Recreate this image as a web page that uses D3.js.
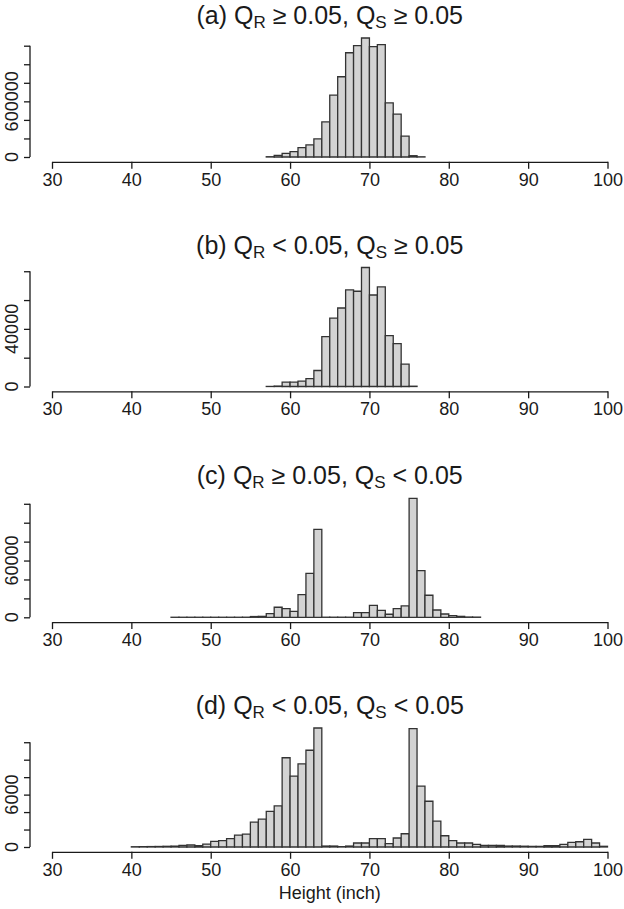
<!DOCTYPE html>
<html>
<head>
<meta charset="utf-8">
<script src="https://cdn.jsdelivr.net/npm/d3@7"></script>
<style>
  html, body { margin: 0; padding: 0; background: #fff; }
  svg { display: block; }
  text { font-family: "Liberation Sans", Arial, Helvetica, sans-serif; fill: #1a1a1a; }
</style>
</head>
<body>
<svg id="chart" width="624" height="909"></svg>
<script>
// ---------- data ----------
const xTicks = [30, 40, 50, 60, 70, 80, 90, 100];

const titlesMain = [["(a) Q", "R", " \u2265 0.05, Q", "S", " \u2265 0.05"],
                    ["(b) Q", "R", " < 0.05, Q", "S", " \u2265 0.05"],
                    ["(c) Q", "R", " \u2265 0.05, Q", "S", " < 0.05"],
                    ["(d) Q", "R", " < 0.05, Q", "S", " < 0.05"]];

// first break of each histogram (bins are 1 inch wide)
const startA = 57;
const countsA = [3000, 18000, 40000, 57000, 100000, 130000, 195000, 378000, 667000, 865000,
                 1124000, 1200000, 1283000, 1189000, 1211000, 584000, 462000, 224000, 14000, 2000];
const yTicksA = [0, 200000, 400000, 600000, 800000, 1000000, 1200000];
const yLabelsA = ["0", "", "", "600000", "", "", ""];

const startB = 57;
const countsB = [50, 300, 3000, 3000, 3700, 5400, 11100, 34600, 47500, 54500,
                 67000, 66100, 82600, 63500, 69100, 35300, 29700, 15500, 200];
const yTicksB = [0, 20000, 40000, 60000, 80000];
const yLabelsB = ["0", "", "40000", "", ""];

const startC = 45;
const countsC = [50, 50, 50, 50, 50, 50, 50, 50, 50, 100,
                 800, 1000, 3900, 10600, 9200, 6300, 24000, 46500, 93000,
                 100, 100, 100, 100,
                 5000, 5000, 12700, 7400, 3200, 9200, 12000, 125800, 49400, 23300, 7700, 3500, 1800, 1000, 300, 200];
const yTicksC = [0, 20000, 40000, 60000, 80000, 100000, 120000];
const yLabelsC = ["0", "", "", "60000", "", "", ""];

const startD = 40;
const countsD = [30, 40, 50, 60, 80, 100, 190, 230, 150, 340,
                 650, 720, 950, 1370, 1480, 2850, 3190, 4070, 4700, 10220,
                 8120, 9530, 11080, 13630, 110, 110, 40, 110, 460, 460,
                 950, 950, 380, 1030, 1520, 13550, 6980, 5240, 2960, 1290,
                 720, 460, 460, 290, 190, 190, 170, 110, 110, 90,
                 70, 70, 150, 150, 310, 540, 600, 880, 460, 80];
const yTicksD = [0, 2000, 4000, 6000, 8000, 10000, 12000];
const yLabelsD = ["0", "", "", "6000", "", "", ""];

const xLabel = "Height (inch)";

// ---------- layout ----------
const panels = [
  {start: startA, counts: countsA, ticks: yTicksA, labels: yLabelsA, base: 157},
  {start: startB, counts: countsB, ticks: yTicksB, labels: yLabelsB, base: 386.5},
  {start: startC, counts: countsC, ticks: yTicksC, labels: yLabelsC, base: 617.3},
  {start: startD, counts: countsD, ticks: yTicksD, labels: yLabelsD, base: 847}
];

const svg = d3.select("#chart");
const x = d3.scaleLinear().domain([30, 100]).range([52, 607.5]);
const barMaxH = 119;
const axisGap = 4.8;
const yAxisX = 30;
const tickFont = 18;

panels.forEach((p, i) => {
  const g = svg.append("g");
  const y = d3.scaleLinear().domain([0, d3.max(p.counts)]).range([p.base, p.base - barMaxH]);

  // title
  const t = g.append("text")
    .attr("x", (x(30) + x(100)) / 2)
    .attr("y", p.base - 133)
    .attr("text-anchor", "middle")
    .style("font-size", "25px");
  titlesMain[i].forEach((s, k) => {
    const ts = t.append("tspan").text(s);
    if (k % 2 === 1) ts.attr("baseline-shift", "-22%").style("font-size", "17px");
  });

  // bars
  g.append("g").selectAll("path")
    .data(p.counts)
    .join("path")
    .attr("d", (c, k) => {
      const x0 = x(p.start + k), x1 = x(p.start + k + 1);
      const y0 = y(0), y1 = y(c);
      return `M${x0},${y0}V${y1}H${x1}V${y0}Z`;
    })
    .attr("fill", "#d3d3d3")
    .attr("stroke", "#333")
    .attr("stroke-width", 1.3);

  // x axis
  const xa = g.append("g")
    .attr("transform", `translate(0,${p.base + axisGap})`)
    .call(d3.axisBottom(x).tickValues(xTicks).tickSize(7).tickSizeOuter(0).tickPadding(4));
  xa.select(".domain").attr("stroke", "#1a1a1a").attr("stroke-width", 1.3);
  xa.selectAll(".tick line").attr("stroke", "#1a1a1a").attr("stroke-width", 1.3);
  xa.selectAll(".tick text").style("font-size", tickFont + "px").style("font-family", "Liberation Sans, Arial, sans-serif").attr("fill", "#1a1a1a");

  // y axis
  const ya = g.append("g")
    .attr("transform", `translate(${yAxisX},0)`)
    .call(d3.axisLeft(y).tickValues(p.ticks).tickSize(6).tickSizeOuter(0).tickFormat(""));
  ya.select(".domain").attr("d", `M0,${y(p.ticks[0])}V${y(p.ticks[p.ticks.length - 1])}`)
    .attr("stroke", "#1a1a1a").attr("stroke-width", 1.3);
  ya.selectAll(".tick line").attr("stroke", "#1a1a1a").attr("stroke-width", 1.3);

  g.append("g").selectAll("text")
    .data(p.ticks.map((v, k) => ({v, l: p.labels[k]})).filter(d => d.l !== ""))
    .join("text")
    .attr("transform", d => `translate(${yAxisX - 12},${y(d.v)}) rotate(-90)`)
    .attr("text-anchor", "middle")
    .style("font-size", tickFont + "px")
    .text(d => d.l);
});

svg.append("text")
  .attr("x", (x(30) + x(100)) / 2)
  .attr("y", 899)
  .attr("text-anchor", "middle")
  .style("font-size", "18px")
  .text(xLabel);
</script>
</body>
</html>
